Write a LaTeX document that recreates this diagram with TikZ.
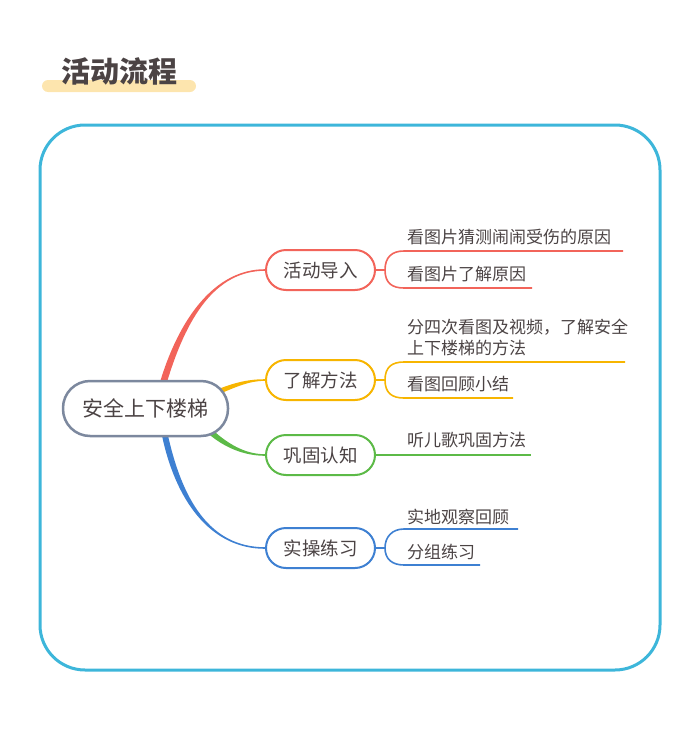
\documentclass[tikz,border=0pt]{standalone}
\usepackage{fontspec}
\usetikzlibrary{backgrounds}
\setmainfont{Noto Sans CJK SC}
\definecolor{framec}{HTML}{3DB6DA}
\definecolor{barc}{HTML}{FDE5AE}
\definecolor{txt}{HTML}{4B4344}
\definecolor{rootc}{HTML}{7C889E}
\definecolor{redc}{HTML}{F2645A}
\definecolor{orangec}{HTML}{F7B500}
\definecolor{greenc}{HTML}{5CBA47}
\definecolor{bluec}{HTML}{3E80D2}

\begin{document}
\begin{tikzpicture}[x=1pt,y=-1pt]
    \tikzset{root/.style = {shape=rectangle,draw=rootc,line width=2.5pt,rounded corners=27pt,minimum width=165pt,minimum height=55pt,fill=white,text=txt,font=\fontsize{21}{24}\selectfont}}
    \tikzset{topic/.style = {shape=rectangle,draw,line width=2pt,rounded corners=20pt,minimum width=109pt,minimum height=40pt,fill=white,text=txt,font=\fontsize{18.5}{22}\selectfont}}
    \tikzset{leaf/.style = {anchor=west,inner sep=0pt,text=txt,align=left,font=\fontsize{17}{21.5}\selectfont}}
    \tikzset{leafline/.style = {line width=1.6pt}}

    \useasboundingbox (0,0) rectangle (700,739);

    % title
    \fill[barc,rounded corners=6pt] (42,80) rectangle (196,92);
    \node[text=txt,font=\fontsize{29}{32}\selectfont\bfseries] (title) at (119,71) {活动流程};

    % frame
    \draw[framec,line width=3pt,rounded corners=45pt] (40,125) rectangle (660,670);

    % main nodes
    \node[root] (safe) at (145.5,408.5) {安全上下楼梯};

    \node[topic,draw=redc] (intro) at (320.5,270) {活动导入};
    \node[topic,draw=orangec] (method) at (320.5,380) {了解方法};
    \node[topic,draw=greenc] (review) at (320.5,455) {巩固认知};
    \node[topic,draw=bluec] (practice) at (320.5,548) {实操练习};

    % branches (behind the nodes)
    \begin{pgfonlayer}{background}
    \fill[redc] ([shift={(14pt,-4pt)}]safe.north) .. controls (179,318) and (215,269.2) .. ([yshift=0.8pt]intro.west)
        -- ([yshift=-0.8pt]intro.west) .. controls (215,270.8) and (186,318) .. ([shift={(21pt,-4pt)}]safe.north) -- cycle;
    \fill[orangec] ([shift={(-17pt,16.8pt)}]safe.east) .. controls (234,382) and (250,379.2) .. ([yshift=0.8pt]method.west)
        -- ([yshift=-0.8pt]method.west) .. controls (250,380.8) and (236,386.6) .. ([shift={(-15pt,12.2pt)}]safe.east) -- cycle;
    \fill[greenc] ([shift={(-21.1pt,-17.4pt)}]safe.east) .. controls (227,444) and (245,454.2) .. ([yshift=0.8pt]review.west)
        -- ([yshift=-0.8pt]review.west) .. controls (245,455.8) and (223,448) .. ([shift={(-24.9pt,-21.6pt)}]safe.east) -- cycle;
    \fill[bluec] ([shift={(16pt,4pt)}]safe.south) .. controls (175,500) and (210,548.8) .. ([yshift=-0.8pt]practice.west)
        -- ([yshift=0.8pt]practice.west) .. controls (210,547.2) and (182,500) .. ([shift={(22pt,4pt)}]safe.south) -- cycle;
    \end{pgfonlayer}

    % leaves
    \node[leaf] (intro1) at (407,237) {看图片猜测闹闹受伤的原因};
    \node[leaf] (intro2) at (407,274) {看图片了解原因};
    \coordinate (intro1e) at (623,251);
    \coordinate (intro2e) at (532,288);
    \draw[redc,leafline] (intro.east) -- ++(9,0) coordinate (introj);
    \draw[redc,leafline] (introj) .. controls +(0,-13) and +(-12,0) .. (404,251) -- (intro1e);
    \draw[redc,leafline] (introj) .. controls +(0,13) and +(-12,0) .. (404,288) -- (intro2e);

    \node[leaf] (method1) at (407,337.5) {分四次看图及视频，了解安全\\上下楼梯的方法};
    \node[leaf] (method2) at (407,384) {看图回顾小结};
    \coordinate (method1e) at (625,362);
    \coordinate (method2e) at (513,398);
    \draw[orangec,leafline] (method.east) -- ++(9,0) coordinate (methodj);
    \draw[orangec,leafline] (methodj) .. controls +(0,-13) and +(-12,0) .. (404,362) -- (method1e);
    \draw[orangec,leafline] (methodj) .. controls +(0,13) and +(-12,0) .. (404,398) -- (method2e);

    \node[leaf] (review1) at (407,440) {听儿歌巩固方法};
    \coordinate (review1e) at (531,455);
    \draw[greenc,leafline] (review.east) -- (review1e);

    \node[leaf] (practice1) at (407,517) {实地观察回顾};
    \node[leaf] (practice2) at (407,552) {分组练习};
    \coordinate (practice1e) at (518,529);
    \coordinate (practice2e) at (480,565);
    \draw[bluec,leafline] (practice.east) -- ++(9,0) coordinate (practicej);
    \draw[bluec,leafline] (practicej) .. controls +(0,-11) and +(-12,0) .. (404,529) -- (practice1e);
    \draw[bluec,leafline] (practicej) .. controls +(0,11) and +(-12,0) .. (404,565) -- (practice2e);
\end{tikzpicture}
\end{document}
